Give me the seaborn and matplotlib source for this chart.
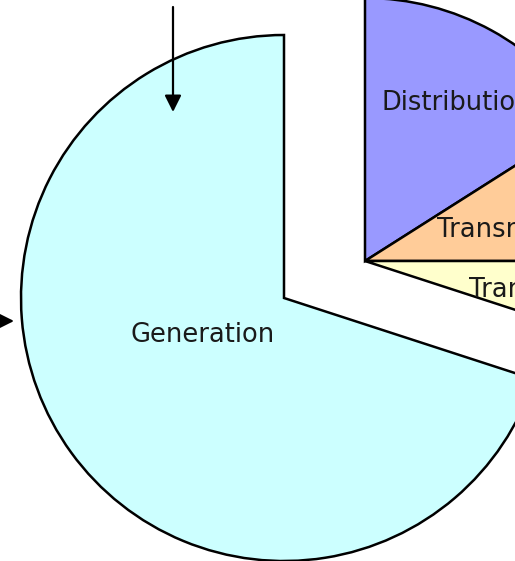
import matplotlib
matplotlib.use("Agg")
import matplotlib.pyplot as plt
import seaborn as sns

sns.set_style("white")
plt.rcParams['font.family'] = ['DejaVu Sans']

# ---- data ----
categories = ["Distribution", "Transmission", "Transformer", "Generation"]
shares = [16, 9, 5, 70]
colors = ["#9999FF", "#FFCC99", "#FFFFCC", "#CCFFFF"]

W, H = 515, 561
fig = plt.figure(figsize=(W / 100, H / 100), dpi=100)
ax = fig.add_axes([0, 0, 1, 1])

def py(y):  # pixel-from-top to data y
    return H - y

R = 263
main_center = (365, py(261))
exploded_center = (284, py(298))
wp = dict(edgecolor="black", linewidth=1.8, joinstyle="miter")

w1, _ = ax.pie(shares, colors=colors, startangle=90, counterclock=False,
               radius=R, center=main_center, wedgeprops=wp, frame=True)
w2, _ = ax.pie(shares, colors=colors, startangle=90, counterclock=False,
               radius=R, center=exploded_center, wedgeprops=wp, frame=True)
for i, w in enumerate(w1):
    w.set_visible(categories[i] != "Generation")
for i, w in enumerate(w2):
    w.set_visible(categories[i] == "Generation")

# labels
label_pos = {
    "Distribution": (381, 110),
    "Transmission": (437, 237),
    "Transformer": (469, 297),
    "Generation": (130, 342),
}
for name in categories:
    x, y = label_pos[name]
    ax.text(x, py(y), name, fontsize=18.5, color="#1a1a1a",
            ha="left", va="baseline")

# pointer arrows
arrow_style = "-|>,head_length=1.0,head_width=0.5"
ax.annotate("", xy=(173, py(112)), xytext=(173, py(7)),
            arrowprops=dict(arrowstyle=arrow_style, color="black", lw=1.6,
                            mutation_scale=10, shrinkA=0, shrinkB=0))
ax.annotate("", xy=(14, py(321)), xytext=(-60, py(321)),
            arrowprops=dict(arrowstyle=arrow_style, color="black", lw=1.6,
                            mutation_scale=10, shrinkA=0, shrinkB=0),
            annotation_clip=False)

ax.set_xlim(0, W)
ax.set_ylim(0, H)
ax.set_axis_off()

fig.savefig("out.png", dpi=100)
